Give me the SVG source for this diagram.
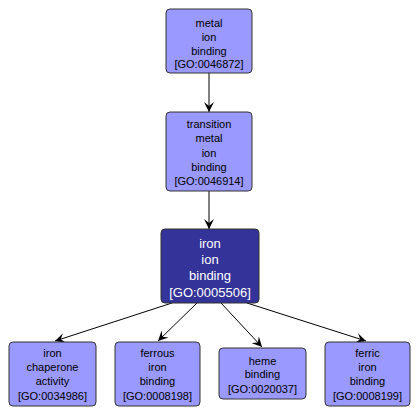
<svg xmlns="http://www.w3.org/2000/svg" width="420" height="416" viewBox="0 0 420 416">
<defs>
<style>
.n{fill:#9999ff;stroke:#333;stroke-width:1}
.c{fill:#333399;stroke:#333;stroke-width:1}
.t{font-family:"Liberation Sans",Arial,sans-serif;font-size:11px;fill:#000;text-anchor:middle}
.tc{font-family:"Liberation Sans",Arial,sans-serif;font-size:13px;fill:#fff;text-anchor:middle}
.e{stroke:#000;stroke-width:1;fill:none;marker-end:url(#a)}
</style>
<marker id="a" viewBox="0 0 10 10" refX="10" refY="5" markerWidth="10" markerHeight="10" markerUnits="userSpaceOnUse" orient="auto">
<path d="M0,0 L10,5 L0,10 L4,5 Z" fill="#000"/>
</marker>
</defs>
<rect width="420" height="416" fill="#fff"/>
<g id="edges">
<line class="e" x1="209" y1="73" x2="209" y2="112"/>
<line class="e" x1="209" y1="191" x2="209" y2="229"/>
<line class="e" x1="172" y1="303" x2="55" y2="341"/>
<line class="e" x1="197" y1="303" x2="158" y2="341"/>
<line class="e" x1="221" y1="303" x2="262" y2="347"/>
<line class="e" x1="247" y1="303" x2="366" y2="341"/>
</g>
<g id="GO0046872">
<rect class="n" x="166" y="9" width="86" height="64" rx="4"/>
<text class="t" x="209" y="27">metal</text>
<text class="t" x="209" y="41">ion</text>
<text class="t" x="209" y="55">binding</text>
<text class="t" x="209" y="68">[GO:0046872]</text>
</g>
<g id="GO0046914">
<rect class="n" x="166" y="112" width="86" height="79" rx="4"/>
<text class="t" x="209" y="128">transition</text>
<text class="t" x="209" y="142">metal</text>
<text class="t" x="209" y="157">ion</text>
<text class="t" x="209" y="171">binding</text>
<text class="t" x="209" y="185">[GO:0046914]</text>
</g>
<g id="GO0005506">
<rect class="c" x="161" y="229" width="98" height="74" rx="4"/>
<text class="tc" x="210" y="248">iron</text>
<text class="tc" x="210" y="264">ion</text>
<text class="tc" x="210" y="280">binding</text>
<text class="tc" x="210" y="297">[GO:0005506]</text>
</g>
<g id="GO0034986">
<rect class="n" x="9" y="342" width="87" height="64" rx="4"/>
<text class="t" x="52.500" y="357">iron</text>
<text class="t" x="52.500" y="371">chaperone</text>
<text class="t" x="52.500" y="385">activity</text>
<text class="t" x="52.500" y="400">[GO:0034986]</text>
</g>
<g id="GO0008198">
<rect class="n" x="115" y="342" width="85" height="64" rx="4"/>
<text class="t" x="157.500" y="357">ferrous</text>
<text class="t" x="157.500" y="371">iron</text>
<text class="t" x="157.500" y="385">binding</text>
<text class="t" x="157.500" y="400">[GO:0008198]</text>
</g>
<g id="GO0020037">
<rect class="n" x="219" y="348" width="87" height="51" rx="4"/>
<text class="t" x="262.500" y="365">heme</text>
<text class="t" x="262.500" y="378">binding</text>
<text class="t" x="262.500" y="393">[GO:0020037]</text>
</g>
<g id="GO0008199">
<rect class="n" x="325" y="342" width="85" height="64" rx="4"/>
<text class="t" x="367.500" y="357">ferric</text>
<text class="t" x="367.500" y="371">iron</text>
<text class="t" x="367.500" y="385">binding</text>
<text class="t" x="367.500" y="400">[GO:0008199]</text>
</g>
</svg>
